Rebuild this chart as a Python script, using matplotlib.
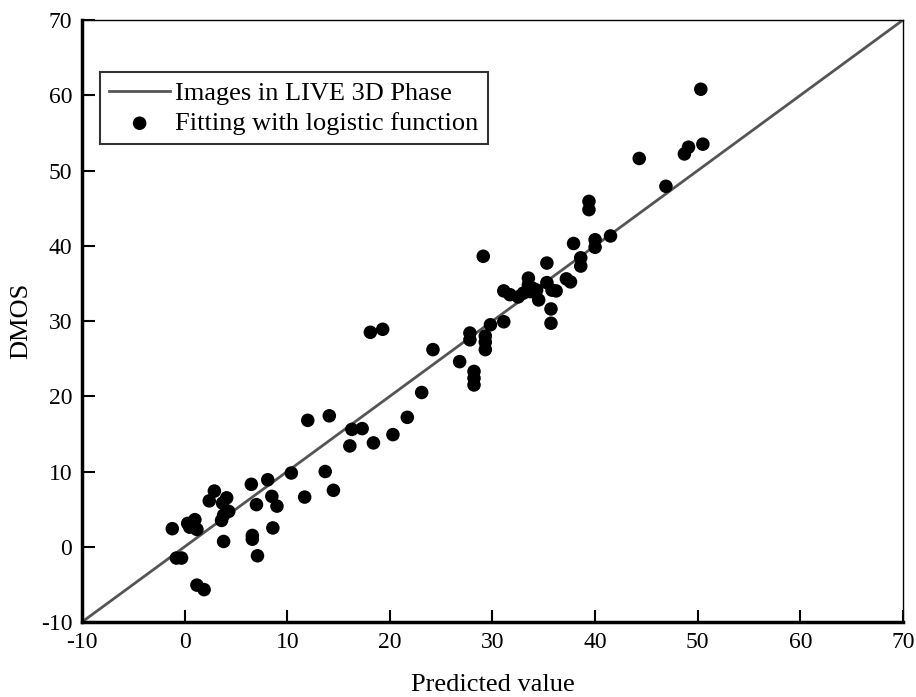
import numpy as np
import matplotlib
matplotlib.use("Agg")
import matplotlib.pyplot as plt

plt.rcParams['font.family'] = ['Liberation Serif', 'DejaVu Serif']
plt.rcParams['axes.unicode_minus'] = False

# predicted value vs DMOS
pred = [-1.2, -0.8, -0.3, 1.2, 1.9, 0.3, 1.0, 0.5, 1.2,
        2.9, 2.4, 4.1, 3.7, 4.3, 3.8, 3.6, 3.8,
        6.5, 8.1, 8.5, 9.0, 7.0, 6.6, 6.6, 7.1, 8.6,
        10.4, 13.7, 11.7, 14.5, 12.0, 14.1,
        16.1, 16.3, 17.3, 18.4, 20.3, 21.7, 23.1, 24.2, 18.1, 19.3,
        26.8, 27.8, 27.8, 29.3, 29.3, 29.3, 29.8, 28.2, 28.2, 28.2,
        29.1, 31.1, 31.1, 31.7, 32.5, 33.0, 33.5, 33.5, 33.7, 34.0,
        34.5, 34.3, 35.3, 35.3, 35.8, 36.2, 35.7, 35.7, 37.2, 37.6,
        37.9, 38.6, 38.6, 40.0, 40.0, 41.5, 39.4, 39.4,
        50.3, 50.5, 49.1, 48.7, 44.3, 46.9]
dmos = [2.4, -1.5, -1.5, -5.1, -5.7, 3.1, 3.6, 2.6, 2.3,
        7.4, 6.1, 6.5, 5.8, 4.7, 4.2, 3.5, 0.7,
        8.3, 8.9, 6.7, 5.4, 5.6, 1.5, 1.0, -1.2, 2.5,
        9.8, 10.0, 6.6, 7.5, 16.8, 17.4,
        13.4, 15.6, 15.7, 13.8, 14.9, 17.2, 20.5, 26.2, 28.5, 28.9,
        24.6, 28.4, 27.5, 28.0, 27.2, 26.2, 29.5, 23.3, 22.4, 21.5,
        38.6, 29.9, 34.0, 33.5, 33.2, 33.7, 35.7, 34.8, 33.9, 34.3,
        32.8, 34.1, 37.7, 35.1, 34.1, 34.0, 31.6, 29.7, 35.6, 35.2,
        40.3, 38.4, 37.3, 40.8, 39.8, 41.3, 45.9, 44.8,
        60.8, 53.5, 53.1, 52.2, 51.6, 47.9]

ref_line = [-10, 70]
ticks = [-10, 0, 10, 20, 30, 40, 50, 60, 70]

fig = plt.figure(figsize=(9.16, 6.97), dpi=100)
ax = fig.add_axes([0.0895, 0.1076, 0.8963, 0.8637])

ax.plot(ref_line, ref_line, color='#555555', lw=2, label='Images in LIVE 3D Phase', zorder=2)
ax.scatter(pred, dmos, s=95, color='black', edgecolors='none', label='Fitting with logistic function', zorder=3)

ax.set_xlim(-10, 70)
ax.set_ylim(-10, 70)
ax.set_xticks(ticks)
ax.set_yticks(ticks)
ax.tick_params(direction='in', length=9, width=1.5, labelsize=17, pad=7)
ax.spines['left'].set_linewidth(2.5)
ax.spines['bottom'].set_linewidth(2.5)
ax.spines['top'].set_linewidth(1)
ax.spines['right'].set_linewidth(1)

ax.set_xlabel('Predicted value', fontsize=19, labelpad=15)
ax.set_ylabel('DMOS', fontsize=19, labelpad=6)

leg = ax.legend(loc='upper left', bbox_to_anchor=(0.022, 0.913), fontsize=19,
                frameon=True, fancybox=False, framealpha=1, edgecolor='#333333',
                handlelength=2.3, borderpad=0.35, labelspacing=0.25, handletextpad=0.2,
                borderaxespad=0)
leg.get_frame().set_linewidth(1.5)

fig.savefig('out.png', dpi=100)
